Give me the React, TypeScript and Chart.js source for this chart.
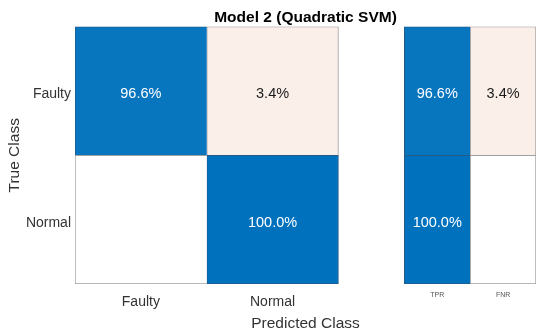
import { useEffect, useRef } from 'react';
import { Chart, registerables } from 'chart.js';

Chart.register(...registerables);

// ---- data ----
const chartTitle = 'Model 2 (Quadratic SVM)';
const trueClasses = ['Faulty', 'Normal'];
const predictedClasses = ['Faulty', 'Normal'];
const summaryLabels = ['TPR', 'FNR'];
// rows = true class, columns = predicted class (row-normalised %)
const faultyRow = [96.6, 3.4];
const normalRow = [0.0, 100.0];
// per-true-class summary: [TPR, FNR]
const faultySummary = [96.6, 3.4];
const normalSummary = [100.0, 0.0];

const FONT = '"Liberation Sans", Arial, Helvetica, sans-serif';
const BLUE = [0, 114, 189];
const ERR = [217, 83, 25];

function mix(c: number[], t: number) {
  const r = Math.round(255 - (255 - c[0]) * t);
  const g = Math.round(255 - (255 - c[1]) * t);
  const b = Math.round(255 - (255 - c[2]) * t);
  return `rgb(${r},${g},${b})`;
}
function cellColor(v: number, correct: boolean) {
  if (v <= 0) return '#ffffff';
  return correct ? mix(BLUE, Math.max(0.97, v / 100)) : mix(ERR, Math.min(1, v * 0.028));
}

const cellText = {
  id: 'cellText',
  afterDatasetsDraw(chart: any) {
    const ctx = chart.ctx;
    ctx.save();
    ctx.font = `14.5px ${FONT}`;
    ctx.textAlign = 'center';
    ctx.textBaseline = 'middle';
    chart.data.datasets.forEach((ds: any, di: number) => {
      const meta = chart.getDatasetMeta(di);
      meta.data.forEach((bar: any, i: number) => {
        const v = ds.values[i];
        if (!v) return;
        const p = bar.getProps(['x', 'base', 'y'], true);
        ctx.fillStyle = ds.correct[i] ? '#ffffff' : '#1a1a1a';
        ctx.fillText(v.toFixed(1) + '%', (p.x + p.base) / 2, p.y + 3);
      });
    });
    ctx.restore();
  },
};

export default function App() {
  const ref = useRef<HTMLCanvasElement | null>(null);

  useEffect(() => {
    if (!ref.current) return;
    const matrix = [faultyRow, normalRow];
    const summary = [faultySummary, normalSummary];
    const nRows = trueClasses.length;
    const nMain = predictedClasses.length;
    const nSum = summaryLabels.length;
    // x layout in units: main cells 2 units wide, 1-unit gap, summary cells 1 unit wide
    const mainRange = (c: number) => [2 * c, 2 * c + 2];
    const sumStart = 2 * nMain + 1;
    const sumRange = (c: number) => [sumStart + c, sumStart + c + 1];

    const datasets: any[] = [];
    const makeDs = (values: number[], correct: boolean[], range: number[], lastCol: boolean) => ({
      data: values.map(() => range),
      values,
      correct,
      backgroundColor: values.map((v, i) => cellColor(v, correct[i])),
      borderColor: values.map((v, i) => (correct[i] && v > 50 ? '#245a88' : '#a0a0a0')),
      borderSkipped: false,
      borderWidth: (ctx: any) => ({
        left: 1,
        top: 1,
        right: lastCol ? 1 : 0,
        bottom: ctx.dataIndex === nRows - 1 ? 1 : 0,
      }),
      categoryPercentage: 1,
      barPercentage: 1,
    });
    for (let c = 0; c < nMain; c++) {
      const values = matrix.map((row) => row[c]);
      const correct = matrix.map((_, r) => r === c);
      datasets.push(makeDs(values, correct, mainRange(c), c === nMain - 1));
    }
    for (let c = 0; c < nSum; c++) {
      const values = summary.map((row) => row[c]);
      const correct = summary.map(() => c === 0);
      datasets.push(makeDs(values, correct, sumRange(c), c === nSum - 1));
    }

    const xTickValues = [
      ...predictedClasses.map((_, c) => 2 * c + 1),
      ...summaryLabels.map((_, c) => sumStart + c + 0.5),
    ];
    const xTickLabels = [...predictedClasses, ...summaryLabels];

    const chart = new Chart(ref.current, {
      type: 'bar',
      data: { labels: trueClasses, datasets },
      plugins: [cellText],
      options: {
        animation: false,
        responsive: false,
        indexAxis: 'y',
        layout: { padding: { left: 0, right: 14, top: 0, bottom: 0 } },
        plugins: {
          legend: { display: false },
          tooltip: { enabled: false },
          title: {
            display: true,
            text: chartTitle,
            fullSize: false,
            color: '#000000',
            font: { family: FONT, size: 15.5, weight: 'bold' },
            padding: { top: 8, bottom: 0 },
          },
        },
        scales: {
          x: {
            type: 'linear',
            min: 0,
            max: sumStart + nSum,
            grid: { display: false, drawTicks: false },
            border: { display: false },
            afterBuildTicks: (s: any) => {
              s.ticks = xTickValues.map((v) => ({ value: v }));
            },
            afterFit: (s: any) => {
              s.height = 47;
            },
            ticks: {
              autoSkip: false,
              maxRotation: 0,
              padding: 10,
              color: (ctx: any) => (ctx.index >= nMain ? '#555555' : '#333333'),
              font: (ctx: any) =>
                ctx.index >= nMain
                  ? { family: FONT, size: 7, lineHeight: '2px' }
                  : { family: FONT, size: 14, lineHeight: '17px' },
              callback: (_v: any, i: number) => xTickLabels[i],
            },
            title: {
              display: true,
              text: 'Predicted Class',
              color: '#333333',
              font: { family: FONT, size: 15.5, lineHeight: 1 },
              padding: { top: 0, bottom: 0 },
            },
          },
          y: {
            type: 'category',
            stacked: true,
            grid: { display: false, drawTicks: false },
            border: { display: false },
            afterFit: (s: any) => {
              s.width = 75;
            },
            ticks: {
              padding: 4,
              labelOffset: 3,
              color: '#333333',
              font: { family: FONT, size: 14 },
            },
            title: {
              display: true,
              text: 'True Class',
              color: '#333333',
              font: { family: FONT, size: 15.5 },
              padding: { top: 5, bottom: 0 },
            },
          },
        },
      } as any,
    });
    return () => chart.destroy();
  }, []);

  return (
    <div style={{ position: 'absolute', left: 0, top: 0, width: 550, height: 331, background: '#fff' }}>
      <canvas ref={ref} width={550} height={331} />
    </div>
  );
}
